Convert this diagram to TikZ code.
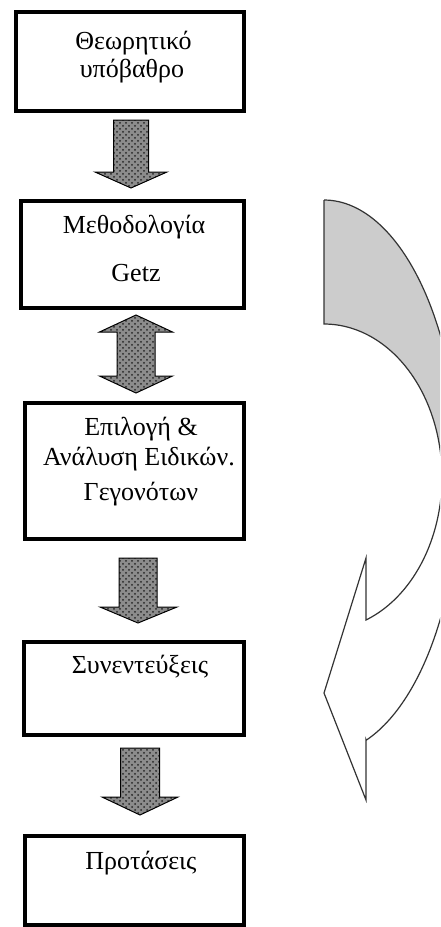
\documentclass[tikz,border=0pt]{standalone}
\usepackage{fontspec}
\setmainfont{Liberation Serif}
\usetikzlibrary{patterns}
\begin{document}
\begin{tikzpicture}[x=0.5pt,y=-0.5pt,
  box/.style={draw=black, line width=2pt, fill=white, inner sep=0pt, outer sep=0pt},
  txt/.style={anchor=base, inner sep=0pt, font=\fontsize{13}{15}\selectfont},
  blockarrow/.style={draw=black, line width=0.5pt, line join=miter, preaction={fill=black!45}, pattern=crosshatch dots, pattern color=black!85},
  tailstyle/.style={draw=black!80, line width=0.6pt, fill=black!20},
  headstyle/.style={draw=black!80, line width=0.6pt, fill=white, line join=miter}]
\useasboundingbox (0,0) rectangle (440,927);
\clip (0,0) rectangle (440,927);
% boxes
\node[box, minimum width=114.25pt, minimum height=49.5pt] (b1) at (129.75,61.5) {};
\node[box, minimum width=111.75pt, minimum height=53.5pt] (b2) at (132.25,254) {};
\node[box, minimum width=109.5pt, minimum height=68pt] (b3) at (134.5,471) {};
\node[box, minimum width=110.25pt, minimum height=46.5pt] (b4) at (133.75,688.5) {};
\node[box, minimum width=109.5pt, minimum height=44.5pt] (b5) at (134.5,880) {};
% texts
\node[txt] (t1a) at (133.5,49) {Θεωρητικό};
\node[txt] (t1b) at (132,77) {υπόβαθρο};
\node[txt] (t2a) at (134,233) {Μεθοδολογία};
\node[txt] (t2b) at (136,281) {Getz};
\node[txt] (t3a) at (141,435) {Επιλογή \&};
\node[txt] (t3b) at (139,465) {Ανάλυση Ειδικών.};
\node[txt] (t3c) at (141,500) {Γεγονότων};
\node[txt] (t4) at (140,673) {Συνεντεύξεις};
\node[txt] (t5) at (141,869) {Προτάσεις};
% block arrows between boxes
\draw[blockarrow] (113.5,120) -- (148.5,120) -- (148.5,172) -- (167,172) -- (131,188) -- (95,172) -- (113.5,172) -- cycle;
\draw[blockarrow] (136,315) -- (172.5,332) -- (155,332) -- (155,376) -- (172.5,376) -- (136,393) -- (99.5,376) -- (117,376) -- (117,332) -- (99.5,332) -- cycle;
\draw[blockarrow] (119,558) -- (157,558) -- (157,607) -- (177,607) -- (138,623) -- (100,607) -- (119,607) -- cycle;
\draw[blockarrow] (120.5,748) -- (159.5,748) -- (159.5,797) -- (178,797) -- (140,815) -- (102,797) -- (120.5,797) -- cycle;
% curved arrow
\filldraw[tailstyle] (324,200) -- (324,324) -- plot[domain=90:0,samples=60] ({324+118*cos(\x)},{477-153*sin(\x)}) -- plot[domain=0:90,samples=60] ({324+135.5*cos(\x)},{477-277*sin(\x)}) -- cycle;
\filldraw[headstyle] plot[domain=0:-69.1,samples=60] ({324+118*cos(\x)},{477-153*sin(\x)}) -- (366,558) -- (324,693) -- (366,800) -- (366,740) -- plot[domain=-71.9:0,samples=60] ({324+135.5*cos(\x)},{477-277*sin(\x)}) -- cycle;
\end{tikzpicture}
\end{document}
